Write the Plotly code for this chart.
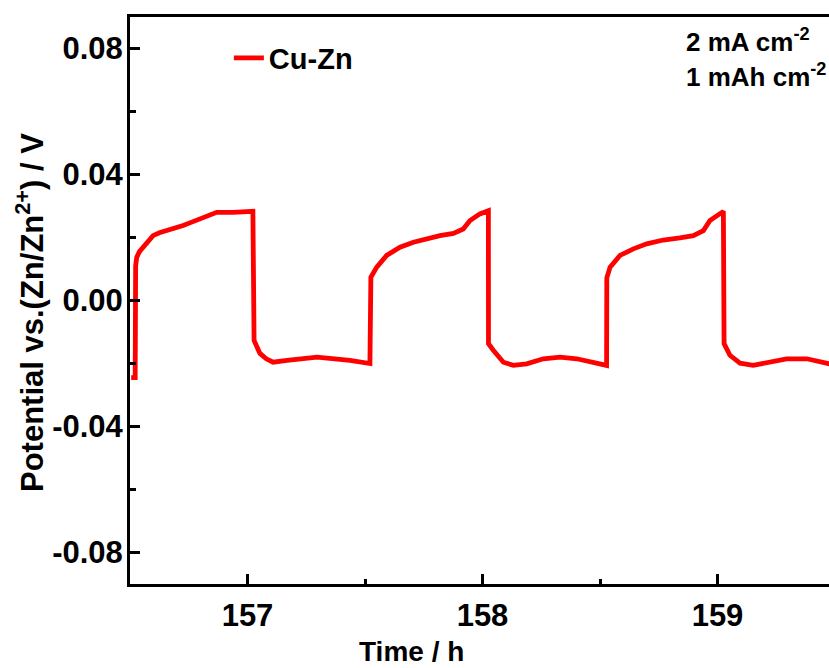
import plotly.graph_objects as go

# ---- data ----
time_h = [
    156.505, 156.522, 156.524, 156.5285, 156.540, 156.555, 156.575, 156.598, 156.625,
    156.656, 156.690, 156.726, 156.760, 156.798, 156.835, 156.869, 156.938, 157.023,
    157.028, 157.040, 157.053, 157.080, 157.109, 157.168, 157.296, 157.436,
    157.521, 157.525, 157.550, 157.592, 157.649, 157.706, 157.763, 157.819, 157.876,
    157.918, 157.947, 157.989, 158.025, 158.0255, 158.046, 158.089, 158.131, 158.188,
    158.259, 158.330, 158.401, 158.471, 158.528, 158.529, 158.543, 158.585, 158.642,
    158.699, 158.769, 158.840, 158.897, 158.940, 158.968, 159.025, 159.028, 159.053,
    159.096, 159.152, 159.209, 159.294, 159.380, 159.465, 159.50,
]
potential_v = [
    -0.0245, -0.0245, 0.0110, 0.0137, 0.0155, 0.0169, 0.0190, 0.0206, 0.0215,
    0.0222, 0.0228, 0.0238, 0.0248, 0.0260, 0.0272, 0.0280, 0.0280, 0.0283,
    -0.0127, -0.0150, -0.0168, -0.0185, -0.0196, -0.0190, -0.0180, -0.0190,
    -0.0200, 0.0074, 0.0106, 0.0143, 0.0169, 0.0185, 0.0196, 0.0206, 0.0213,
    0.0227, 0.0254, 0.0275, 0.0285, -0.0137, -0.0158, -0.0196, -0.0206, -0.0201,
    -0.0185, -0.0180, -0.0185, -0.0196, -0.0206, 0.0072, 0.0106, 0.0143, 0.0164,
    0.0180, 0.0192, 0.0199, 0.0206, 0.0222, 0.0254, 0.0283, -0.0137, -0.0174,
    -0.0199, -0.0206, -0.0199, -0.0185, -0.0185, -0.0201, -0.0205,
]
series_name = "Cu-Zn"

x_tick_vals = [157, 158, 159]
x_tick_text = ["157", "158", "159"]
x_minor_vals = [156.5, 157.5, 158.5, 159.5]
y_tick_vals = [-0.08, -0.04, 0.0, 0.04, 0.08]
y_tick_text = ["-0.08", "-0.04", "0.00", "0.04", "0.08"]
y_minor_vals = [-0.06, -0.02, 0.02, 0.06]

FONT = "Arial, Liberation Sans, sans-serif"

fig = go.Figure()
fig.add_trace(go.Scatter(
    x=time_h, y=potential_v, mode="lines", name=series_name,
    line=dict(color="#ff0000", width=4.8),
))

axis_common = dict(
    showline=True, linecolor="black", linewidth=3,
    ticks="inside", ticklen=10, tickwidth=3, tickcolor="black",
    showgrid=False, zeroline=False, automargin=False,
    tickfont=dict(family=FONT, size=31, color="black", weight="bold"),
)

PL, PW, PT, PH = 130, 699, 17, 567  # plot area in px, used for paper placement

fig.update_layout(
    template="none",
    width=829, height=668,
    margin=dict(l=PL, r=0, t=PT, b=84, autoexpand=False),
    plot_bgcolor="white", paper_bgcolor="white",
    showlegend=True,
    legend=dict(
        x=0.13 + 8 / PW, y=1 - (58 - PT) / PH, xanchor="left", yanchor="middle",
        bgcolor="rgba(0,0,0,0)", borderwidth=0,
        font=dict(family=FONT, size=29, color="black", weight="bold"),
    ),
    xaxis=dict(
        range=[156.5, 156.5 + PW / 235],
        tickmode="array", tickvals=x_tick_vals, ticktext=x_tick_text,
        minor=dict(tickmode="array", tickvals=x_minor_vals, ticks="inside",
                   ticklen=5, tickwidth=3, tickcolor="black"),
        mirror=True,
        ticklabelstandoff=2,
        **axis_common,
    ),
    yaxis=dict(
        range=[-0.09, 0.09],
        tickmode="array", tickvals=y_tick_vals, ticktext=y_tick_text,
        minor=dict(tickmode="array", tickvals=y_minor_vals, ticks="inside",
                   ticklen=6, tickwidth=3, tickcolor="black"),
        mirror=False,
        ticklabelstandoff=-2,
        **axis_common,
    ),
    annotations=[
        dict(text="Potential vs.(Zn/Zn<sup>2+</sup>) / V", textangle=-90,
             xref="paper", yref="paper", x=-(PL - 30) / PW, y=1 - (313 - PT) / PH,
             xanchor="center", yanchor="middle", showarrow=False,
             font=dict(family=FONT, size=31, color="black", weight="bold")),
        dict(text="Time / h", xref="paper", yref="paper", x=(411 - PL) / PW,
             y=-(651 - 584) / PH,
             xanchor="center", yanchor="middle", showarrow=False,
             font=dict(family=FONT, size=28, color="black", weight="bold")),
        dict(text="2 mA cm<sup>-2</sup>", xref="paper", yref="paper",
             x=(684 - PL) / PW, y=1 - (40 - PT) / PH,
             xanchor="left", yanchor="middle", showarrow=False,
             font=dict(family=FONT, size=26, color="black", weight="bold")),
        dict(text="1 mAh cm<sup>-2</sup>", xref="paper", yref="paper",
             x=(684 - PL) / PW, y=1 - (75 - PT) / PH,
             xanchor="left", yanchor="middle", showarrow=False,
             font=dict(family=FONT, size=26, color="black", weight="bold")),
    ],
)

fig.write_html(
    "out.html",
    config={"displayModeBar": False},
    post_script="document.body.style.margin='0';document.body.style.padding='0';",
)
